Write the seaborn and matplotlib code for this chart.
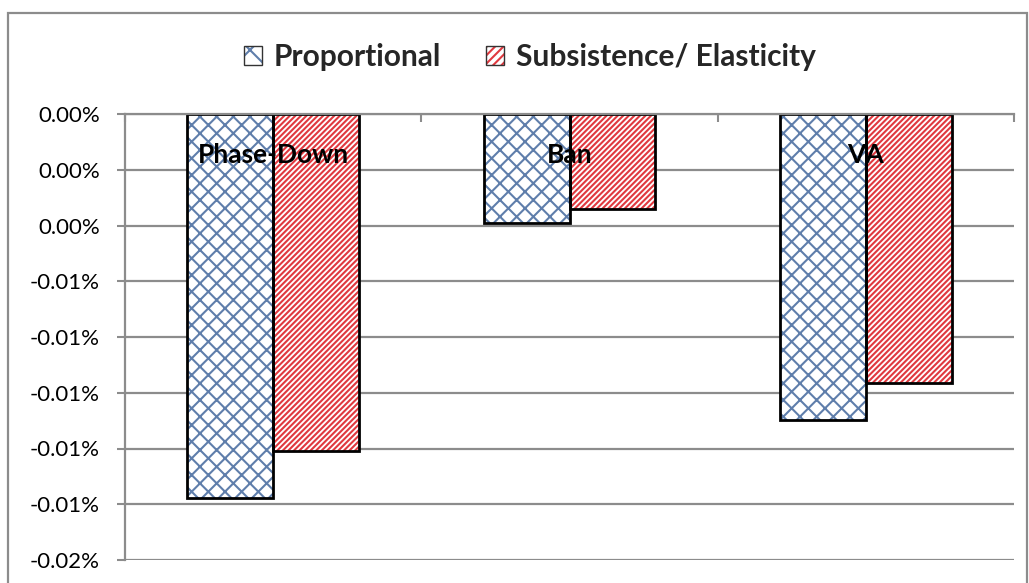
import matplotlib
matplotlib.use("Agg")
import matplotlib.pyplot as plt
import matplotlib.patches as mpatches
from matplotlib.legend_handler import HandlerTuple
from matplotlib.ticker import FuncFormatter, FixedLocator
import seaborn as sns
import pandas as pd

# Change in welfare by policy scenario and allocation rule (fractions, 1 = 100%)
policies = ["Phase-Down", "Ban", "VA"]
series = ["Proportional", "Subsistence/ Elasticity"]
proportional = [-0.0001379, -0.0000390, -0.0001099]
subsistence = [-0.0001210, -0.0000342, -0.0000965]
y_ticks = [0.0, -0.00002, -0.00004, -0.00006, -0.00008, -0.00010, -0.00012, -0.00014, -0.00016]

df = pd.DataFrame({
    "policy": policies * 2,
    "series": [series[0]] * 3 + [series[1]] * 3,
    "value": proportional + subsistence,
})

sns.set_theme(style="white")
plt.rcParams["font.family"] = ["Lato", "DejaVu Sans"]
plt.rcParams["hatch.linewidth"] = 1.5

GRID = "#8c8c8c"
HATCH_COLORS = {series[0]: "#5f7eab", series[1]: "#e0393f"}
HATCHES = {series[0]: "xx", series[1]: "//////"}

fig = plt.figure(figsize=(10.29, 5.83), dpi=100)
ax = fig.add_axes([125 / 1029, 1 - 560 / 583, (1014 - 125) / 1029, (560 - 114) / 583])

sns.barplot(data=df, x="policy", y="value", hue="series", order=policies,
            hue_order=series, palette=["white", "white"], width=0.58, gap=0,
            errorbar=None, legend=False, ax=ax, zorder=3)

# Restyle bars: coloured hatch fill with a black outline drawn on top
for s, container in zip(series, ax.containers):
    for bar in container:
        bar.set_hatch(HATCHES[s])
        bar.set_edgecolor(HATCH_COLORS[s])
        bar.set_linewidth(0)
        outline = mpatches.Rectangle(bar.get_xy(), bar.get_width(), bar.get_height(),
                                     fill=False, edgecolor="black", linewidth=2, zorder=4)
        ax.add_patch(outline)

ax.set_xlim(-0.5, 2.5)
ax.set_ylim(y_ticks[-1], 0)
ax.yaxis.set_major_locator(FixedLocator(y_ticks))


def pct(v, _pos):
    r = round(v * 100, 2)
    if r == 0:
        return "0.00%"
    return f"{r:.2f}%"


ax.yaxis.set_major_formatter(FuncFormatter(pct))
ax.tick_params(axis="y", which="major", direction="out", length=6, width=1.5,
               color=GRID, labelsize=16, pad=12, left=True, labelcolor="black")
ax.grid(axis="y", color=GRID, linewidth=1.6, zorder=0)
ax.set_axisbelow(True)

# Category axis sits at zero (top edge) with ticks between categories
ax.xaxis.tick_top()
ax.set_xticks([-0.5, 0.5, 1.5, 2.5])
ax.set_xticklabels([])
ax.tick_params(axis="x", direction="in", length=6, width=1.5, color=GRID, top=True, bottom=False)
ax.set_xlabel("")
ax.set_ylabel("")

for side in ["right", "bottom"]:
    ax.spines[side].set_visible(False)
for side in ["left", "top"]:
    ax.spines[side].set_color(GRID)
    ax.spines[side].set_linewidth(1.6)
ax.spines["top"].set_zorder(5)

for i, name in enumerate(policies):
    ax.annotate(name, xy=(i, 0), xytext=(0, -29.5), textcoords="offset points",
                ha="center", va="center", fontsize=19, fontweight="bold",
                color="black", zorder=6)

# Legend: hatched swatch overlaid with a dark outline
handles = []
for s in series:
    fill = mpatches.Patch(facecolor="white", edgecolor=HATCH_COLORS[s],
                          hatch="x" if s == series[0] else "////", linewidth=0)
    edge = mpatches.Patch(facecolor="none", edgecolor="#333333", linewidth=1.0)
    handles.append((fill, edge))
fig.legend(handles=handles, labels=series, loc="center",
           bbox_to_anchor=(530 / 1029, 1 - 57 / 583), ncol=2,
           handler_map={tuple: HandlerTuple(ndivide=1, pad=0)},
           frameon=False, prop={"size": 21.5, "weight": "bold"}, handlelength=0.6,
           handleheight=0.6, handletextpad=0.4, columnspacing=1.5)

# Chart border
fig.add_artist(mpatches.Rectangle((8 / 1029, -0.05), 1019 / 1029, 1.05 - 13 / 583,
                                  transform=fig.transFigure, fill=False,
                                  edgecolor=GRID, linewidth=1.6))

fig.savefig("out.png", dpi=100)
